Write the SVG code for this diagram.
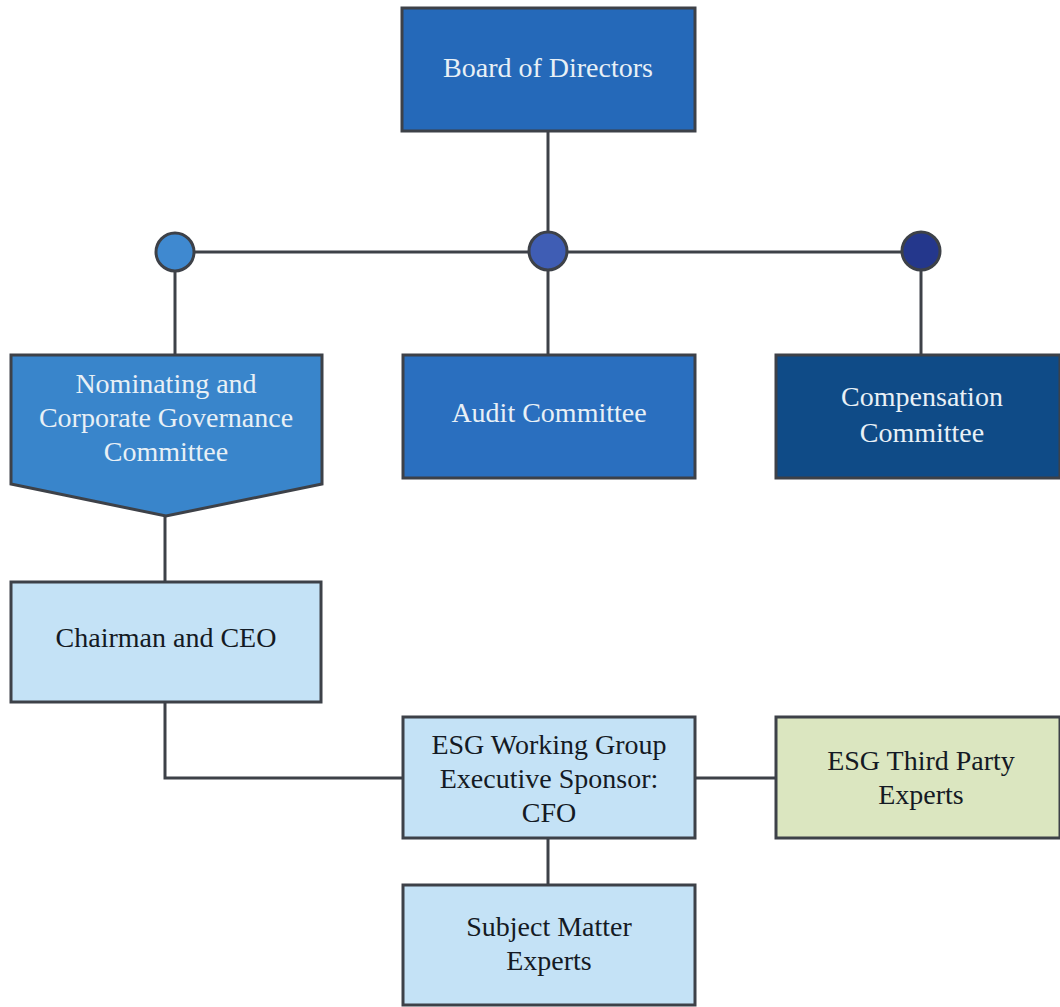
<svg xmlns="http://www.w3.org/2000/svg" width="1060" height="1007" viewBox="0 0 1060 1007">
<style>
.box{stroke:#3d4148;stroke-width:3}
.ln{stroke:#3d4148;stroke-width:3;fill:none}
.lt{fill:#e8f0f6}
.dk{fill:#141a24}
</style>
<rect width="1060" height="1007" fill="#ffffff"/>
<g id="connectors">
<line class="ln" x1="548" y1="106" x2="548" y2="252"/>
<line class="ln" x1="175" y1="252" x2="921" y2="252"/>
<line class="ln" x1="175" y1="252" x2="175" y2="356"/>
<line class="ln" x1="548" y1="252" x2="548" y2="356"/>
<line class="ln" x1="921" y1="252" x2="921" y2="356"/>
<line class="ln" x1="165" y1="516" x2="165" y2="582"/>
<polyline class="ln" points="165,702 165,778 403,778"/>
<line class="ln" x1="695" y1="778" x2="776" y2="778"/>
<line class="ln" x1="548" y1="838" x2="548" y2="885"/>
</g>
<g font-family="Liberation Serif" font-size="28" text-anchor="middle">
<g id="board">
<rect class="box" x="402" y="8" width="293" height="123" fill="#2569b9"/>
<text class="lt" x="548" y="77">Board of Directors</text>
</g>
<g id="dot-left"><circle class="box" cx="175" cy="252" r="19" fill="#3f89d0"/></g>
<g id="dot-mid"><circle class="box" cx="548" cy="251" r="19" fill="#3f5db4"/></g>
<g id="dot-right"><circle class="box" cx="921" cy="251" r="19" fill="#24378c"/></g>
<g id="nominating">
<polygon class="box" points="11,355 322,355 322,484 166,516 11,484" fill="#3985cb"/>
<text class="lt" x="166" y="393">Nominating and</text>
<text class="lt" x="166" y="427">Corporate Governance</text>
<text class="lt" x="166" y="461">Committee</text>
</g>
<g id="audit">
<rect class="box" x="403" y="355" width="292" height="123" fill="#2a6fbf"/>
<text class="lt" x="549" y="422">Audit Committee</text>
</g>
<g id="compensation">
<rect class="box" x="776" y="355" width="284" height="123" fill="#0f4b87"/>
<text class="lt" x="922" y="406">Compensation</text>
<text class="lt" x="922" y="442">Committee</text>
</g>
<g id="chairman">
<rect class="box" x="11" y="582" width="310" height="120" fill="#c4e2f6"/>
<text class="dk" x="166" y="647">Chairman and CEO</text>
</g>
<g id="esg">
<rect class="box" x="403" y="717" width="292" height="121" fill="#c4e2f6"/>
<text class="dk" x="549" y="754">ESG Working Group</text>
<text class="dk" x="549" y="788">Executive Sponsor:</text>
<text class="dk" x="549" y="822">CFO</text>
</g>
<g id="thirdparty">
<rect class="box" x="776" y="717" width="284" height="121" fill="#dbe6c0"/>
<text class="dk" x="921" y="770">ESG Third Party</text>
<text class="dk" x="921" y="804">Experts</text>
</g>
<g id="sme">
<rect class="box" x="403" y="885" width="292" height="120" fill="#c4e2f6"/>
<text class="dk" x="549" y="936">Subject Matter</text>
<text class="dk" x="549" y="970">Experts</text>
</g>
</g>
</svg>
